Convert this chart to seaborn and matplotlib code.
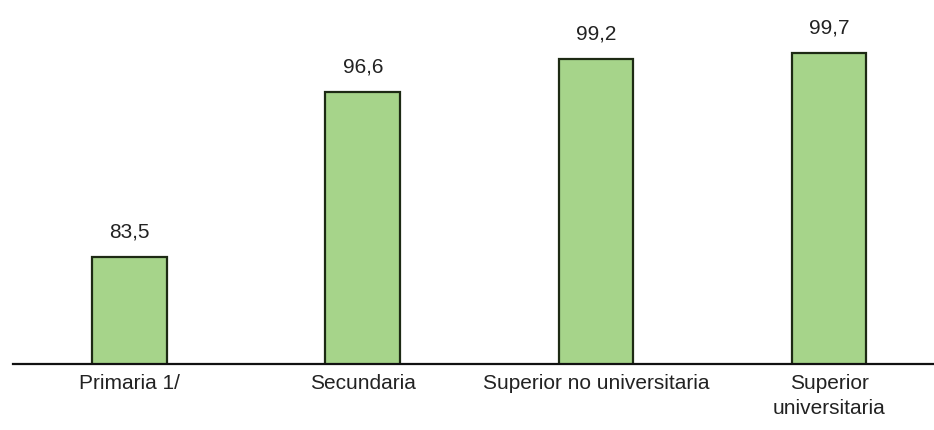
import matplotlib
matplotlib.use("Agg")
import matplotlib.pyplot as plt
import seaborn as sns
import pandas as pd

# Data
niveles = ["Primaria 1/", "Secundaria", "Superior no universitaria", "Superior\nuniversitaria"]
valores = [83.5, 96.6, 99.2, 99.7]
etiquetas = ["83,5", "96,6", "99,2", "99,7"]

sns.set_style("white")
plt.rcParams["font.family"] = ["Liberation Sans", "DejaVu Sans"]

df = pd.DataFrame({"nivel": niveles, "valor": valores})

fig = plt.figure(figsize=(9.34, 4.3), dpi=100)
ax = fig.add_axes([0.014, 0.1535, 0.986, 0.8465])

sns.barplot(data=df, x="nivel", y="valor", color="#a6d48a", saturation=1,
            width=0.32, edgecolor="#1d2a14", linewidth=1.6, ax=ax)

# value labels above bars
for patch, txt in zip(ax.patches, etiquetas):
    ax.annotate(txt, (patch.get_x() + patch.get_width() / 2, patch.get_height()),
                xytext=(0, 11), textcoords="offset points",
                ha="center", va="bottom", fontsize=15, color="#222222")

ax.set_ylim(75, 103.9)
ax.set_xlim(-0.5, 3.45)
ax.set_xlabel("")
ax.set_ylabel("")
ax.set_yticks([])
ax.tick_params(axis="x", length=0, labelsize=15, colors="#222222", pad=7)
for lbl in ax.get_xticklabels():
    lbl.set_linespacing(1.45)

for side in ["top", "right", "left"]:
    ax.spines[side].set_visible(False)
ax.spines["bottom"].set_color("#111111")
ax.spines["bottom"].set_linewidth(1.6)

fig.savefig("out.png", dpi=100, facecolor="white")
